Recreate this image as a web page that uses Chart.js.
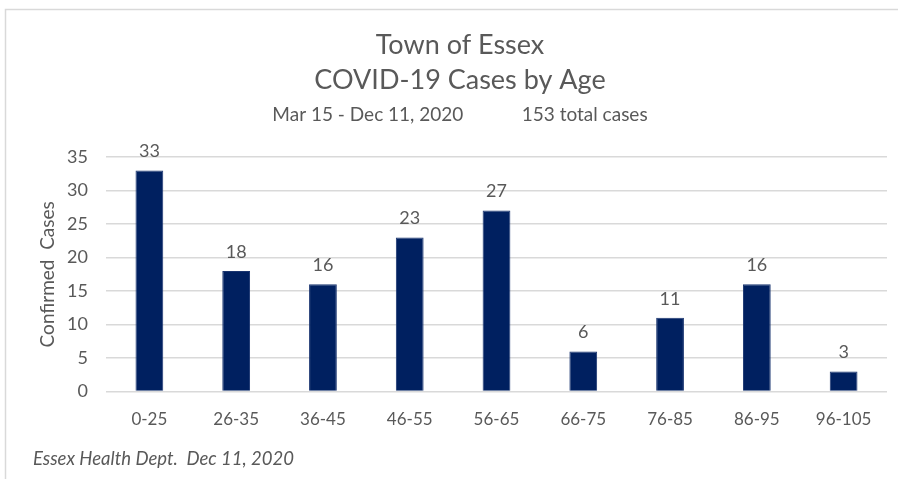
<html>
  <head>
    <meta charset="utf-8" />
    <title>COVID-19 Cases by Age</title>
    <style>
      body { margin: 0; background: #fff; }
    </style>
  </head>
  <body>
    <canvas id="chartBar" width="898" height="479"></canvas>

    <script src="https://cdn.jsdelivr.net/npm/chart.js"></script>
    <script>
      // 年齡層
      var ageGroups = ["0-25", "26-35", "36-45", "46-55", "56-65", "66-75", "76-85", "86-95", "96-105"];
      // 確診人數
      var cases = [33, 18, 16, 23, 27, 6, 11, 16, 3];
      var yTicks = [0, 5, 10, 15, 20, 25, 30, 35];

      var titleLines = ["Town of Essex", "COVID-19 Cases by Age"];
      var subtitleText = "Mar 15 - Dec 11, 2020" + "\u00a0".repeat(12) + "153 total cases";
      var footerText = "Essex Health Dept.\u00a0 Dec 11, 2020";

      var fontName = "Lato, 'Liberation Sans', sans-serif";
      var textColor = "#595959";

      // 數值標籤、外框、註腳
      var extras = {
        id: "extras",
        beforeDraw: function (chart) {
          var c = chart.ctx;
          c.save();
          c.strokeStyle = "#d9d9d9";
          c.lineWidth = 1.5;
          c.strokeRect(5.5, 9.5, 920, 500);
          c.restore();
        },
        afterDatasetsDraw: function (chart) {
          var c = chart.ctx;
          var meta = chart.getDatasetMeta(0);
          c.save();
          c.fillStyle = textColor;
          c.font = "18px " + fontName;
          c.textAlign = "center";
          c.textBaseline = "bottom";
          meta.data.forEach(function (bar, i) {
            c.fillText(String(cases[i]), bar.x, bar.y - 10);
          });
          c.font = "italic 18.5px " + fontName;
          c.textAlign = "left";
          c.textBaseline = "middle";
          c.fillText(footerText, 33, 459);
          c.restore();
        },
      };

      var ctx = document.getElementById("chartBar").getContext("2d");
      var barChart = new Chart(ctx, {
        type: "bar",
        data: {
          labels: ageGroups,
          datasets: [
            {
              label: "Confirmed Cases",
              data: cases,
              backgroundColor: "#002060",
              borderColor: "#1a3570",
              borderWidth: 1,
              barPercentage: 0.32,
              categoryPercentage: 1,
            },
          ],
        },
        options: {
          responsive: false,
          animation: false,
          devicePixelRatio: 1,
          layout: { padding: { left: 33, right: 11, top: 28, bottom: 31 } },
          plugins: {
            legend: { display: false },
            tooltip: { enabled: false },
            title: {
              display: true,
              text: titleLines,
              color: textColor,
              font: { family: fontName, size: 27, weight: "normal", lineHeight: 1.3 },
              padding: { top: 0, bottom: 0 },
            },
            subtitle: {
              display: true,
              text: subtitleText,
              color: textColor,
              font: { family: fontName, size: 19, weight: "normal", lineHeight: 1.2 },
              padding: { top: 5, bottom: 31 },
            },
          },
          scales: {
            x: {
              grid: { display: false, drawTicks: false },
              border: { display: false },
              ticks: { color: textColor, font: { family: fontName, size: 17 }, padding: 18, maxRotation: 0 },
            },
            y: {
              min: 0,
              max: 35,
              afterBuildTicks: function (axis) {
                axis.ticks = yTicks.map(function (v) { return { value: v }; });
              },
              afterFit: function (axis) { axis.width = 73; },
              grid: { color: "#d9d9d9", lineWidth: 1.5, drawTicks: false },
              border: { display: false },
              ticks: { color: textColor, font: { family: fontName, size: 18 }, padding: 18 },
              title: {
                display: true,
                text: "Confirmed\u00a0 Cases",
                color: textColor,
                font: { family: fontName, size: 19 },
                padding: { top: 3, bottom: 0 },
              },
            },
          },
        },
        plugins: [extras],
      });
    </script>
  </body>
</html>
